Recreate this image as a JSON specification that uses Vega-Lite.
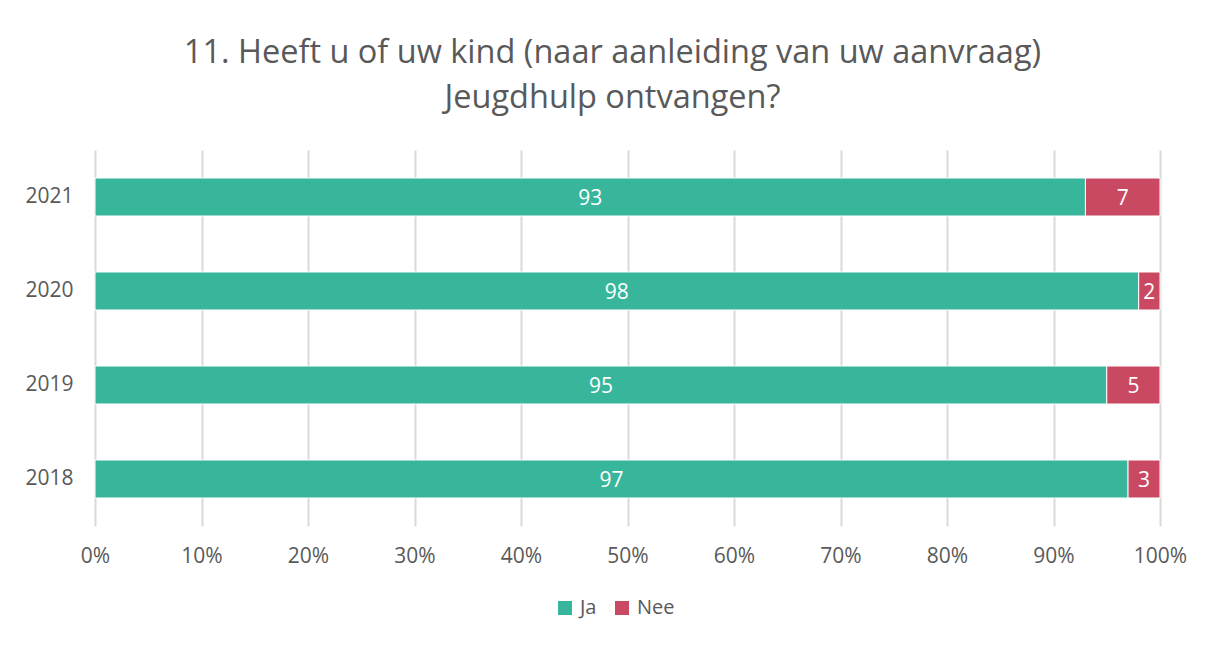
{
  "$schema": "https://vega.github.io/schema/vega-lite/v6.json",
  "width": 1065,
  "height": 376,
  "autosize": {"type": "none"},
  "padding": {"left": 95, "top": 150, "right": 52, "bottom": 120},
  "background": "white",
  "config": {"view": {"stroke": null}},
  "title": {
    "text": ["11. Heeft u of uw kind (naar aanleiding van uw aanvraag)", "Jeugdhulp ontvangen?"],
    "font": "Open Sans",
    "fontSize": 32.5,
    "fontWeight": "normal",
    "color": "#595959",
    "lineHeight": 45,
    "anchor": "middle",
    "frame": "group",
    "dx": -15,
    "offset": 36
  },
  "data": {
    "values": [
      {"jaar": "2021", "antwoord": "Ja", "waarde": 93, "volgorde": 1},
      {"jaar": "2021", "antwoord": "Nee", "waarde": 7, "volgorde": 2},
      {"jaar": "2020", "antwoord": "Ja", "waarde": 98, "volgorde": 1},
      {"jaar": "2020", "antwoord": "Nee", "waarde": 2, "volgorde": 2},
      {"jaar": "2019", "antwoord": "Ja", "waarde": 95, "volgorde": 1},
      {"jaar": "2019", "antwoord": "Nee", "waarde": 5, "volgorde": 2},
      {"jaar": "2018", "antwoord": "Ja", "waarde": 97, "volgorde": 1},
      {"jaar": "2018", "antwoord": "Nee", "waarde": 3, "volgorde": 2}
    ]
  },
  "transform": [
    {"stack": "waarde", "groupby": ["jaar"], "sort": [{"field": "volgorde", "order": "ascending"}], "as": ["v0", "v1"]},
    {"calculate": "(datum.v0 + datum.v1) / 2", "as": "midden"}
  ],
  "encoding": {
    "y": {
      "field": "jaar",
      "type": "nominal",
      "sort": "descending",
      "scale": {"paddingInner": 0.596, "paddingOuter": 0.298},
      "axis": {
        "title": null,
        "domain": false,
        "ticks": false,
        "labelFont": "Open Sans",
        "labelFontSize": 21,
        "labelColor": "#595959",
        "labelPadding": 22
      }
    }
  },
  "layer": [
    {
      "mark": {"type": "bar", "stroke": "white", "strokeWidth": 1},
      "encoding": {
        "x": {
          "field": "v0",
          "type": "quantitative",
          "scale": {"domain": [0, 100], "nice": false},
          "axis": {
            "title": null,
            "values": [0, 10, 20, 30, 40, 50, 60, 70, 80, 90, 100],
            "labelExpr": "datum.value + '%'",
            "domain": false,
            "ticks": false,
            "grid": true,
            "gridColor": "#D9D9D9",
            "gridWidth": 2,
            "labelFlush": false,
            "labelOverlap": false,
            "labelBound": false,
            "labelFont": "Open Sans",
            "labelFontSize": 21,
            "labelColor": "#595959",
            "labelPadding": 19
          }
        },
        "x2": {"field": "v1"},
        "color": {
          "field": "antwoord",
          "type": "nominal",
          "scale": {"domain": ["Ja", "Nee"], "range": ["#37B69B", "#C94963"]},
          "legend": {
            "title": null,
            "orient": "none",
            "direction": "horizontal",
            "legendX": 460,
            "legendY": 448,
            "symbolType": "square",
            "symbolSize": 196,
            "symbolStrokeWidth": 0,
            "labelFont": "Open Sans",
            "labelFontSize": 20,
            "labelColor": "#595959",
            "columnPadding": 15,
            "labelOffset": 5
          }
        }
      }
    },
    {
      "mark": {"type": "text", "color": "white", "font": "Open Sans", "fontSize": 21, "baseline": "middle", "align": "center", "dy": 2},
      "encoding": {
        "x": {"field": "midden", "type": "quantitative"},
        "text": {"field": "waarde", "type": "quantitative"}
      }
    }
  ]
}
